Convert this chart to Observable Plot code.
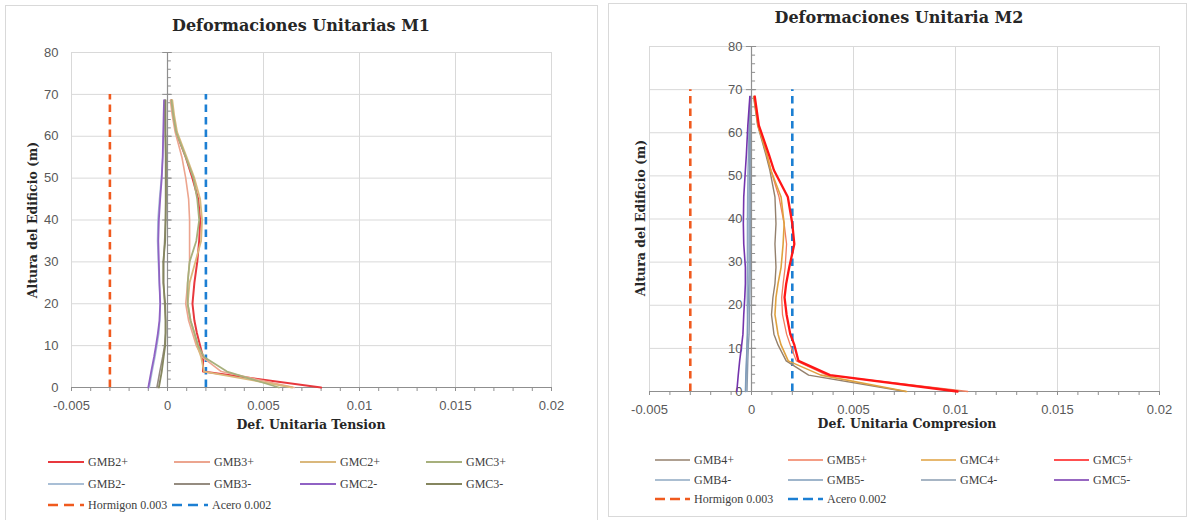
<!DOCTYPE html>
<html><head><meta charset="utf-8">
<script src="https://cdn.jsdelivr.net/npm/d3@7"></script>
<script src="https://cdn.jsdelivr.net/npm/@observablehq/plot@0.6"></script>
<style>
body{margin:0;background:#fff;width:1189px;height:520px;overflow:hidden;position:relative}
.frame{position:absolute;border:1px solid #d9d9d9;box-sizing:border-box}
.title{position:absolute;font-family:"DejaVu Serif",serif;font-weight:bold;font-size:16px;color:#262626;white-space:nowrap;transform:translate(-50%,-50%);line-height:1}
.atitle{position:absolute;font-family:"DejaVu Serif",serif;font-weight:bold;font-size:12.5px;color:#262626;white-space:nowrap;line-height:1}
.leg{position:absolute;font-family:"Liberation Serif",serif;font-size:12px;color:#404040;white-space:nowrap;line-height:1;transform:translateY(-50%)}
</style></head><body>
<script>
// ---------- shared axis values ----------
const xTicks = [-0.005, 0, 0.005, 0.01, 0.015, 0.02];
const xTickLabels = ["-0.005", "0", "0.005", "0.01", "0.015", "0.02"];
const yTicks = [0, 10, 20, 30, 40, 50, 60, 70, 80];
const xMinor = d3.range(-5, 21).map(i => i / 1000);
const yMinor = d3.range(0, 81, 2);

// ---------- M1 (Tension) ----------
const heightsM1 = [0, 3.8, 7.3, 10, 13, 16, 20, 25, 30, 35, 40, 45, 50, 55, 61, 65, 68.6];
const seriesM1 = ["GMB2+", "GMB3+", "GMC2+", "GMC3+", "GMB2-", "GMB3-", "GMC2-", "GMC3-"];
const colorsM1 = ["#e8383d", "#eca58f", "#dab87c", "#a7b07c", "#a9bfd6", "#958c80", "#9062c4", "#85865f"];
const widthsM1 = [2, 1.6, 1.8, 1.8, 1.5, 1.6, 1.8, 1.8];
const m1_GMB2p = [0.0080, 0.00185, 0.00185, 0.0017, 0.00153, 0.0014, 0.0013, 0.0014, 0.00155, 0.00165, 0.0017, 0.0016, 0.0013, 0.00095, 0.00045, 0.0003, 0.0002];
const m1_GMB3p = [0.0066, 0.0028, 0.0018, 0.0015, 0.0013, 0.0011, 0.00095, 0.00105, 0.00115, 0.00115, 0.00115, 0.0011, 0.00095, 0.00075, 0.0004, 0.00025, 0.00015];
const m1_GMC2p = [0.0065, 0.0019, 0.00175, 0.00155, 0.0014, 0.0012, 0.00105, 0.00115, 0.00145, 0.00175, 0.0018, 0.0017, 0.0014, 0.001, 0.0005, 0.00035, 0.00025];
const m1_GMC3p = [0.0058, 0.0031, 0.0019, 0.0016, 0.0014, 0.0012, 0.00105, 0.00105, 0.00115, 0.0015, 0.00165, 0.00155, 0.00135, 0.00095, 0.00045, 0.0003, 0.0002];
const m1_GMB2m = [-0.00095, -0.0008, -0.00065, -0.00055, -0.00045, -0.0004, -0.00037, -0.00043, -0.00048, -0.00052, -0.0005, -0.00042, -0.00032, -0.00025, -0.0002, -0.00017, -0.00015];
const m1_GMB3m = [-0.00055, -0.0004, -0.00025, -0.00015, -0.0001, -0.0001, -0.00015, -0.0002, -0.0002, -0.00015, -0.0001, -0.0001, -0.0001, -0.0001, -0.00012, -0.00014, -0.00015];
const m1_GMC2m = [-0.001, -0.00085, -0.0007, -0.0006, -0.0005, -0.00042, -0.00038, -0.00042, -0.00045, -0.00048, -0.00045, -0.00038, -0.0003, -0.00025, -0.00022, -0.0002, -0.00018];
const m1_GMC3m = [-0.00045, -0.0003, -0.0002, -0.00012, -0.0001, -0.0001, -0.00012, -0.00022, -0.00022, -0.00012, -0.0001, -0.00008, -0.00008, -0.00008, -0.0001, -0.0001, -0.0001];
const valuesM1 = [m1_GMB2p, m1_GMB3p, m1_GMC2p, m1_GMC3p, m1_GMB2m, m1_GMB3m, m1_GMC2m, m1_GMC3m];

// ---------- M2 (Compresion) ----------
const heightsM2 = [0, 3.8, 7.1, 10.8, 13.3, 17.8, 21.8, 25, 28.8, 34.2, 38.9, 45.1, 51.3, 55, 61.7, 68.4];
const seriesM2 = ["GMB4+", "GMB5+", "GMC4+", "GMC5+", "GMB4-", "GMB5-", "GMC4-", "GMC5-"];
const colorsM2 = ["#94806c", "#f07c5c", "#dfa13f", "#ff1616", "#8fa8c2", "#7f9cba", "#8a9cb0", "#7434ad"];
const widthsM2 = [1.4, 1.3, 1.6, 2.3, 1.4, 1.4, 1.4, 1.6];
const m2_GMB4p = [0.00755, 0.0028, 0.0017, 0.0013, 0.0011, 0.00098, 0.00105, 0.00115, 0.0012, 0.00115, 0.0012, 0.00115, 0.0009, 0.0007, 0.0003, 0.0001];
const m2_GMB5p = [0.0106, 0.0037, 0.0022, 0.0019, 0.00172, 0.00152, 0.00148, 0.00155, 0.00165, 0.00172, 0.0016, 0.00135, 0.00095, 0.00075, 0.00032, 0.00015];
const m2_GMC4p = [0.0076, 0.0034, 0.0018, 0.00145, 0.0013, 0.00115, 0.0012, 0.0013, 0.00145, 0.00155, 0.0016, 0.00145, 0.00095, 0.00075, 0.00032, 0.00012];
const m2_GMC5p = [0.0101, 0.00385, 0.0023, 0.0021, 0.0019, 0.00172, 0.00162, 0.0017, 0.00185, 0.0021, 0.002, 0.00178, 0.0011, 0.00085, 0.00036, 0.00016];
const m2_GMB4m = [-0.00028, -0.00026, -0.00024, -0.00022, -0.0002, -0.0002, -0.00021, -0.00021, -0.0002, -0.0002, -0.0002, -0.00019, -0.00017, -0.00015, -0.00012, -0.00008];
const m2_GMB5m = [-0.0003, -0.00028, -0.00025, -0.00022, -0.0002, -0.00018, -0.00015, -0.00013, -0.00012, -0.00012, -0.00012, -0.00012, -0.0001, -0.0001, -0.00008, -0.00006];
const m2_GMC4m = [-0.00022, -0.0002, -0.00018, -0.00015, -0.00012, -0.0001, -0.00008, -0.00007, -0.00006, -0.00006, -0.00006, -0.00006, -0.00006, -0.00006, -0.00006, -0.00005];
const m2_GMC5m = [-0.00072, -0.00065, -0.00058, -0.00048, -0.00042, -0.00038, -0.00033, -0.0003, -0.0003, -0.00038, -0.0004, -0.00038, -0.0003, -0.00025, -0.00018, -0.00008];
const valuesM2 = [m2_GMB4p, m2_GMB5p, m2_GMC4p, m2_GMC5p, m2_GMB4m, m2_GMB5m, m2_GMC4m, m2_GMC5m];

// ---------- reference limits ----------
const refNames = ["Hormigon 0.003", "Acero 0.002"];
const refValues = [-0.003, 0.002];
const refTop = 70;
const refColors = ["#f05a1e", "#1c7fd3"];

const fmt = d => xTickLabels[xTicks.indexOf(d)] ?? String(d);

function addDiv(cls, text, style) {
  const d = document.createElement("div");
  d.className = cls; d.textContent = text;
  Object.assign(d.style, style);
  document.body.appendChild(d);
  return d;
}

function build(cfg) {
  const rows = [];
  cfg.series.forEach((s, i) => cfg.values[i].forEach((v, j) => rows.push({s, e: v, h: cfg.heights[j], i})));
  const axisC = "#8f8f8f";
  const tickFont = "Liberation Sans, Arial, sans-serif";
  const marks = [
    Plot.gridX(xTicks, {stroke: "#d9d9d9", strokeOpacity: 1}),
    Plot.gridY(yTicks, {stroke: "#d9d9d9", strokeOpacity: 1}),
    Plot.axisX(xTicks, {tickSize: 0, tickPadding: 13, tickFormat: fmt, fontSize: 13, fill: "#595959", fontFamily: tickFont, label: null}),
    Plot.axisX(xMinor, {tickSize: 4, text: null, stroke: axisC, label: null}),
    Plot.ruleY([0], {stroke: axisC, strokeWidth: 1.2}),
    Plot.ruleX([0], {stroke: axisC, strokeWidth: 1.2}),
    Plot.ruleY(yMinor, {x1: 0, x2: 0.0002, stroke: axisC}),
    Plot.ruleY(yTicks, {x1: -0.00025, x2: 0.00025, stroke: axisC})
  ];
  refValues.forEach((v, i) => marks.push(
    Plot.ruleX([v], {y1: 0, y2: refTop, stroke: refColors[i], strokeWidth: 2.6, strokeDasharray: "7.5,5"})));
  if (cfg.yLabelsAtZero) {
    marks.push(Plot.text(yTicks, {x: 0, y: d => d, text: d => String(d), textAnchor: "end", dx: -9, fontSize: 13, fill: "#595959", fontFamily: tickFont}));
  } else {
    marks.push(Plot.axisY(yTicks, {tickSize: 0, tickPadding: 13, fontSize: 13, fill: "#595959", fontFamily: tickFont, label: null}));
  }
  cfg.series.forEach((s, i) => {
    marks.push(Plot.line(rows.filter(r => r.s === s), {x: "e", y: "h", stroke: cfg.colors[i], strokeWidth: cfg.widths[i]}));
  });
  const svg = Plot.plot({
    width: cfg.width, height: cfg.height,
    marginLeft: cfg.ml, marginRight: cfg.mr, marginTop: cfg.mt, marginBottom: cfg.mb,
    x: {domain: [-0.005, 0.02], axis: null, label: null},
    y: {domain: [0, 80], axis: null, label: null},
    style: {background: "transparent", overflow: "visible"},
    marks
  });
  svg.style.position = "absolute";
  svg.style.left = cfg.left + "px";
  svg.style.top = "0px";
  document.body.appendChild(svg);
}

function legend(cfg) {
  const mk = (x, y, len, color, w, dash, label, tx) => {
    const s = d3.create("svg").attr("width", len).attr("height", 6)
      .style("position", "absolute").style("left", x + "px").style("top", (y - 3) + "px");
    s.append("line").attr("x1", 0).attr("x2", len).attr("y1", 3).attr("y2", 3)
      .attr("stroke", color).attr("stroke-width", w).attr("stroke-dasharray", dash);
    document.body.appendChild(s.node());
    addDiv("leg", label, {left: tx + "px", top: y + "px"});
  };
  cfg.series.forEach((s, i) => {
    const col = i % 4, row = Math.floor(i / 4);
    const x = cfg.cols[col];
    mk(x, cfg.rows[row], cfg.len, cfg.colors[i], cfg.legW, null, s, x + cfg.len + 4);
  });
  refNames.forEach((n, i) => {
    const x = cfg.refX[i];
    mk(x, cfg.rows[2], cfg.len, refColors[i], 2.5, cfg.dash, n, x + cfg.len + 4);
  });
}

// frames
addDiv("frame", "", {left: "5px", top: "5px", width: "593px", height: "530px"});
addDiv("frame", "", {left: "608px", top: "3px", width: "579px", height: "514px"});

build({series: seriesM1, values: valuesM1, heights: heightsM1, colors: colorsM1, widths: widthsM1,
  left: 0, width: 597, height: 430, ml: 71, mr: 46, mt: 52, mb: 43, yLabelsAtZero: false});
build({series: seriesM2, values: valuesM2, heights: heightsM2, colors: colorsM2, widths: widthsM2,
  left: 600, width: 589, height: 430, ml: 49, mr: 30, mt: 46, mb: 39, yLabelsAtZero: true});

// titles
addDiv("title", "Deformaciones Unitarias M1", {left: "301px", top: "26px"});
addDiv("title", "Deformaciones Unitaria M2", {left: "899px", top: "18px"});
addDiv("atitle", "Def. Unitaria Tension", {left: "311px", top: "425px", transform: "translate(-50%,-50%)"});
addDiv("atitle", "Def. Unitaria Compresion", {left: "907px", top: "424px", transform: "translate(-50%,-50%)"});
addDiv("atitle", "Altura del Edificio (m)", {left: "33px", top: "220px", transform: "translate(-50%,-50%) rotate(-90deg)"});
addDiv("atitle", "Altura del Edificio (m)", {left: "641px", top: "218px", transform: "translate(-50%,-50%) rotate(-90deg)"});

legend({series: seriesM1, colors: colorsM1, cols: [48, 174, 300, 426], rows: [462, 484, 505], len: 36, legW: 2, dash: "10,6", refX: [48, 172]});
legend({series: seriesM2, colors: colorsM2, cols: [655, 788, 921, 1054], rows: [460, 480, 499], len: 35, legW: 1.5, dash: "10,5", refX: [655, 788]});
</script>
</body></html>
